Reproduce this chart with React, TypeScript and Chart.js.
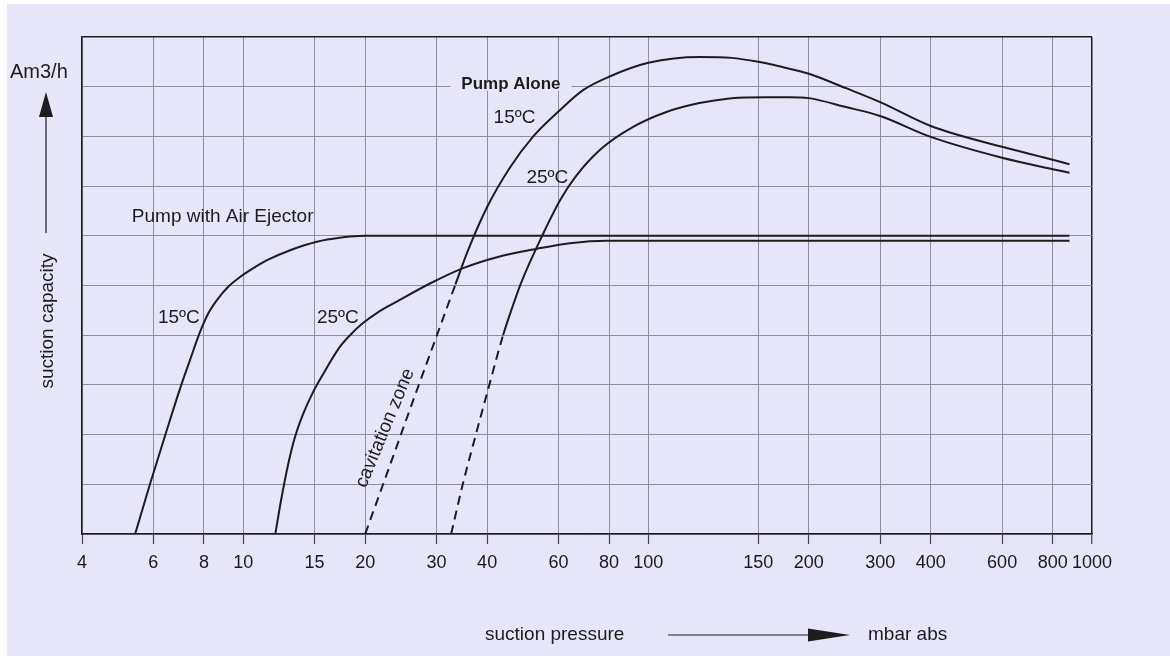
import React, { useEffect, useRef } from 'react';
import { Chart, registerables, LogarithmicScale } from 'chart.js';

Chart.register(...registerables);

// ---------- data ----------
const xTicks = [4, 6, 8, 10, 15, 20, 30, 40, 60, 80, 100, 150, 200, 300, 400, 600, 800, 1000];
const xMin = 4;
const xMax = 1000;
const yMin = 0;
const yMax = 10;

// Pump with Air Ejector, 15 °C
const ejector15X = [5.41, 5.89, 6.41, 6.98, 7.39, 7.82, 8.19, 8.62, 9.17, 9.82, 10.7, 11.45, 13.06, 15.2, 17.3, 20, 880];
const ejector15Y = [0, 1.01, 1.97, 2.92, 3.5, 4.06, 4.43, 4.71, 4.97, 5.17, 5.37, 5.51, 5.71, 5.88, 5.96, 6.0, 6.0];

// Pump with Air Ejector, 25 °C
const ejector25X = [12.0, 12.4, 12.9, 13.4, 14.05, 14.8, 15.65, 17.3, 18.35, 19.65, 21.5, 24.0, 28.9, 34.9, 42.3, 53.2, 64, 79, 880];
const ejector25Y = [0, 0.68, 1.39, 1.93, 2.41, 2.82, 3.18, 3.76, 4.0, 4.23, 4.46, 4.68, 5.04, 5.35, 5.57, 5.74, 5.85, 5.9, 5.9];

// Pump Alone, 15 °C (first points lie in the cavitation zone: dashed)
const alone15X = [20, 23.3, 25.8, 30.1, 33.4, 35.9, 40, 45.6, 52, 60, 69, 80, 100, 121, 136, 150, 169, 200, 247, 300, 400, 600, 800, 880];
const alone15Y = [0, 1.5, 2.51, 4.01, 5.02, 5.71, 6.58, 7.38, 8.0, 8.5, 8.93, 9.2, 9.48, 9.6, 9.58, 9.5, 9.41, 9.26, 8.97, 8.69, 8.21, 7.79, 7.53, 7.44];
const alone15DashedUpTo = 4;

// Pump Alone, 25 °C
const alone25X = [32.6, 34.9, 37.6, 40.5, 43.8, 46.1, 48.5, 54.4, 60.6, 66.0, 76, 91.7, 106.9, 120.7, 136, 157, 179, 200, 247, 300, 400, 600, 800, 880];
const alone25Y = [0, 1.03, 2.03, 3.0, 4.0, 4.55, 5.05, 5.96, 6.72, 7.18, 7.73, 8.19, 8.49, 8.67, 8.77, 8.79, 8.79, 8.77, 8.59, 8.41, 7.99, 7.57, 7.34, 7.27];
const alone25DashedUpTo = 4;

// curve labels, anchored in data units
const curveLabels = [
  { text: 'Pump with Air Ejector', x: 5.31, y: 6.38, bold: false },
  { text: '15ºC', x: 6.16, y: 4.35, bold: false },
  { text: '25ºC', x: 15.2, y: 4.35, bold: false },
  { text: '15ºC', x: 41.5, y: 8.37, bold: false },
  { text: '25ºC', x: 50.0, y: 7.16, bold: false },
];
const pumpAloneLabel = { text: 'Pump Alone', x: 45.8, y: 9.0 };
const cavitationLabel = { text: 'cavitation zone', x: 22.4, y: 2.13, angleDeg: -67.5 };

const yTitle = 'suction capacity';
const yUnit = 'Am3/h';
const xTitle = 'suction pressure';
const xUnit = 'mbar abs';

// ---------- styling ----------
const BG = '#e6e6f8';
const INK = '#1d1d1d';
const GRID = '#8e8e9e';
const FONT = '"Liberation Sans", Arial, Helvetica, sans-serif';

// the printed axis is logarithmic, but the 100–150 interval is drawn stretched
const STRETCH_FROM = 100;
const STRETCH_TO = 150;
const STRETCH = 1.54;

function warp(v: number): number {
  const l = Math.log10(v);
  const a = Math.log10(STRETCH_FROM);
  const b = Math.log10(STRETCH_TO);
  if (l <= a) return l;
  if (l <= b) return a + (l - a) * STRETCH;
  return l + (b - a) * (STRETCH - 1);
}
function unwarp(w: number): number {
  const a = Math.log10(STRETCH_FROM);
  const b = Math.log10(STRETCH_TO);
  const wb = a + (b - a) * STRETCH;
  let l: number;
  if (w <= a) l = w;
  else if (w <= wb) l = a + (w - a) / STRETCH;
  else l = w - (b - a) * (STRETCH - 1);
  return Math.pow(10, l);
}

class BrokenLogScale extends (LogarithmicScale as any) {
  static id = 'brokenLog';
  static defaults = (LogarithmicScale as any).defaults;
  buildTicks() {
    return xTicks.map((value) => ({ value }));
  }
  getPixelForValue(value: number) {
    if (value === null || value === undefined || isNaN(value)) return NaN;
    const lo = warp(this.min);
    const hi = warp(this.max);
    return this.getPixelForDecimal((warp(value) - lo) / (hi - lo));
  }
  getValueForPixel(pixel: number) {
    const lo = warp(this.min);
    const hi = warp(this.max);
    return unwarp(lo + this.getDecimalForPixel(pixel) * (hi - lo));
  }
}
Chart.register(BrokenLogScale as any);

const toPoints = (xs: number[], ys: number[]) => xs.map((x, i) => ({ x, y: ys[i] }));

const textPlugin = {
  id: 'diagramText',
  afterDatasetsDraw(chart: any) {
    const { ctx, chartArea } = chart;
    const xs = chart.scales.x;
    const ys = chart.scales.y;
    ctx.save();
    ctx.fillStyle = INK;
    ctx.textBaseline = 'middle';

    for (const l of curveLabels) {
      ctx.font = `${l.bold ? 'bold ' : ''}19px ${FONT}`;
      ctx.textAlign = 'left';
      ctx.fillText(l.text, xs.getPixelForValue(l.x), ys.getPixelForValue(l.y));
    }

    // Pump Alone with knocked-out gridline
    ctx.font = `bold 17px ${FONT}`;
    ctx.textAlign = 'center';
    const px = xs.getPixelForValue(pumpAloneLabel.x);
    const py = ys.getPixelForValue(pumpAloneLabel.y);
    const w = ctx.measureText(pumpAloneLabel.text).width;
    ctx.fillStyle = BG;
    ctx.fillRect(px - w / 2 - 11, py - 4, w + 22, 8);
    ctx.fillStyle = INK;
    ctx.fillText(pumpAloneLabel.text, px, py - 2);

    // cavitation zone
    ctx.save();
    ctx.translate(xs.getPixelForValue(cavitationLabel.x), ys.getPixelForValue(cavitationLabel.y));
    ctx.rotate((cavitationLabel.angleDeg * Math.PI) / 180);
    ctx.font = `19px ${FONT}`;
    ctx.textAlign = 'center';
    ctx.fillText(cavitationLabel.text, 0, 0);
    ctx.restore();

    // y axis unit, arrow and title
    const ax = chartArea.left - 36;
    ctx.font = `20px ${FONT}`;
    ctx.textAlign = 'left';
    ctx.fillText(yUnit, chartArea.left - 72, chartArea.top + 35);
    ctx.strokeStyle = INK;
    ctx.lineWidth = 1.2;
    ctx.beginPath();
    ctx.moveTo(ax, chartArea.top + 78);
    ctx.lineTo(ax, chartArea.top + 196);
    ctx.stroke();
    ctx.beginPath();
    ctx.moveTo(ax, chartArea.top + 55);
    ctx.lineTo(ax - 7, chartArea.top + 80);
    ctx.lineTo(ax + 7, chartArea.top + 80);
    ctx.closePath();
    ctx.fill();
    ctx.save();
    ctx.translate(ax + 2, chartArea.top + 284);
    ctx.rotate(-Math.PI / 2);
    ctx.font = `19px ${FONT}`;
    ctx.textAlign = 'center';
    ctx.fillText(yTitle, 0, 0);
    ctx.restore();

    // x axis title, arrow and unit
    const ty = chartArea.bottom + 101;
    ctx.font = `19px ${FONT}`;
    ctx.textAlign = 'left';
    ctx.fillText(xTitle, 485, ty);
    ctx.beginPath();
    ctx.moveTo(668, ty);
    ctx.lineTo(815, ty);
    ctx.stroke();
    ctx.beginPath();
    ctx.moveTo(850, ty);
    ctx.lineTo(808, ty - 6.5);
    ctx.lineTo(808, ty + 6.5);
    ctx.closePath();
    ctx.fill();
    ctx.fillText(xUnit, 868, ty);

    ctx.restore();
  },
};

export default function App() {
  const ref = useRef<HTMLCanvasElement | null>(null);

  useEffect(() => {
    if (!ref.current) return;
    const common = {
      borderColor: INK,
      borderWidth: 2,
      pointRadius: 0,
      pointHoverRadius: 0,
      fill: false,
      cubicInterpolationMode: 'monotone' as const,
    };
    const chart = new Chart(ref.current, {
      type: 'line',
      data: {
        datasets: [
          { ...common, label: 'Pump with Air Ejector 15ºC', data: toPoints(ejector15X, ejector15Y) },
          { ...common, label: 'Pump with Air Ejector 25ºC', data: toPoints(ejector25X, ejector25Y) },
          {
            ...common,
            label: 'Pump Alone 15ºC',
            data: toPoints(alone15X, alone15Y),
            segment: { borderDash: (c: any) => (c.p1DataIndex <= alone15DashedUpTo ? [9, 6] : undefined) },
          },
          {
            ...common,
            label: 'Pump Alone 25ºC',
            data: toPoints(alone25X, alone25Y),
            segment: { borderDash: (c: any) => (c.p1DataIndex <= alone25DashedUpTo ? [9, 6] : undefined) },
          },
        ] as any,
      },
      options: {
        animation: false,
        responsive: true,
        maintainAspectRatio: false,
        events: [],
        layout: { padding: { left: 82, top: 37, right: 78, bottom: 0 } },
        plugins: { legend: { display: false }, tooltip: { enabled: false }, title: { display: false } },
        scales: {
          x: {
            type: 'brokenLog' as any,
            min: xMin,
            max: xMax,
            border: { display: true, color: INK, width: 1.5 },
            grid: {
              color: (c: any) => (c.tick && c.tick.value === xMax ? INK : GRID),
              lineWidth: (c: any) => (c.tick && c.tick.value === xMax ? 1.5 : 1),
              drawTicks: true,
              tickLength: 10,
              tickColor: '#444',
              tickWidth: 1.2,
            },
            ticks: {
              autoSkip: false,
              maxRotation: 0,
              padding: 8,
              color: '#1a1a1a',
              font: { family: FONT, size: 18 },
              callback: (v: any) => String(v),
            },
            afterFit: (s: any) => {
              s.height = 122;
            },
          } as any,
          y: {
            type: 'linear',
            min: yMin,
            max: yMax,
            border: { display: true, color: INK, width: 1.5 },
            grid: {
              color: (c: any) => (c.tick && c.tick.value === yMax ? INK : GRID),
              lineWidth: (c: any) => (c.tick && c.tick.value === yMax ? 1.5 : 1),
              drawTicks: false,
            },
            ticks: { display: false, stepSize: 1 },
            afterFit: (s: any) => {
              s.width = 0;
            },
          },
        },
      },
      plugins: [textPlugin],
    });
    return () => chart.destroy();
  }, []);

  return (
    <div style={{ position: 'absolute', left: 0, top: 0, width: 1170, height: 656, background: '#ffffff' }}>
      <div style={{ position: 'absolute', left: 7, top: 4, right: 0, bottom: 0, background: BG }} />
      <div style={{ position: 'absolute', left: 0, top: 0, width: 1170, height: 656 }}>
        <canvas ref={ref} />
      </div>
    </div>
  );
}
